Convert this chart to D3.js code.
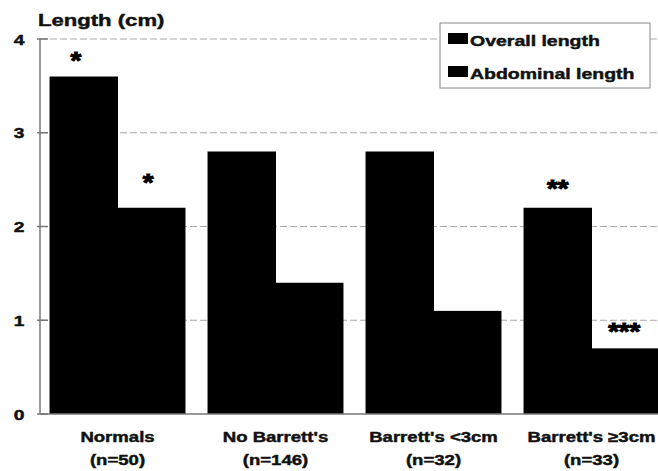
<!DOCTYPE html>
<html>
<head>
<meta charset="utf-8">
<script src="https://cdn.jsdelivr.net/npm/d3@7"></script>
<style>
  html, body { margin: 0; padding: 0; background: #fff; }
  svg { display: block; }
  text { font-family: "Liberation Sans", Arial, sans-serif; font-weight: bold; fill: #111;
         stroke: #111; stroke-width: 0.45px; }
</style>
</head>
<body>
<svg id="chart" width="658" height="471"></svg>
<script>
// Oesophageal sphincter length by patient group
const categories = ["Normals", "No Barrett's", "Barrett's <3cm", "Barrett's \u22653cm"];
const groupSizes = ["(n=50)", "(n=146)", "(n=32)", "(n=33)"];
const seriesNames = ["Overall length", "Abdominal length"];
const overallLength = [3.6, 2.8, 2.8, 2.2];
const abdominalLength = [2.2, 1.4, 1.1, 0.7];
const yTicks = [0, 1, 2, 3, 4];
// significance marks: [category index, series index, label]
const significance = [[0, 0, "*"], [0, 1, "*"], [3, 0, "**"], [3, 1, "***"]];
// placement of each mark: [dx from bar centre, height of mark centre above bar top], px
const markPlace = [[-8, 17.5], [-3, 27], [0, 21], [-1, 18]];

const svg = d3.select("#chart");
const W = 658;
const stretch = 1.28;

const x0 = d3.scaleBand().domain(categories).range([40, 669])
  .paddingInner(0.146).paddingOuter(0.0635);
const x1 = d3.scaleBand().domain(seriesNames).range([0, x0.bandwidth()]);
const y = d3.scaleLinear().domain([0, 4]).range([414, 39]);

const values = [overallLength, abdominalLength];

// dashed gridlines
svg.append("g").selectAll("line").data(yTicks.filter(d => d > 0)).join("line")
  .attr("x1", 40).attr("x2", W)
  .attr("y1", d => y(d)).attr("y2", d => y(d))
  .attr("stroke", "#a8a8a8").attr("stroke-width", 1)
  .attr("stroke-dasharray", "7,3");

// bars
const groups = svg.append("g").selectAll("g").data(categories).join("g")
  .attr("transform", d => `translate(${x0(d)},0)`);
groups.selectAll("rect")
  .data((c, i) => seriesNames.map((s, k) => ({ s, v: values[k][i] })))
  .join("rect")
  .attr("x", d => x1(d.s) - 0.5)
  .attr("width", x1.bandwidth() + 1)
  .attr("y", d => y(d.v))
  .attr("height", d => y(0) - y(d.v))
  .attr("fill", "#000");

// axes
svg.append("line").attr("x1", 40).attr("x2", 40).attr("y1", y(4)).attr("y2", y(0))
  .attr("stroke", "#777").attr("stroke-width", 1.5);
svg.append("line").attr("x1", 40).attr("x2", W).attr("y1", y(0)).attr("y2", y(0))
  .attr("stroke", "#777").attr("stroke-width", 1.5);
svg.append("g").selectAll("line").data(yTicks).join("line")
  .attr("x1", 37).attr("x2", 48)
  .attr("y1", d => y(d)).attr("y2", d => y(d))
  .attr("stroke", "#777").attr("stroke-width", 1.5);

function stretchedText(parent, tx, ty, str, size, anchor, sx) {
  return parent.append("text")
    .attr("transform", `translate(${tx},${ty}) scale(${sx || stretch},1)`)
    .attr("text-anchor", anchor || "start")
    .style("font-size", size + "px")
    .text(str);
}

// y tick labels
const yAxisG = svg.append("g");
yTicks.forEach(t => stretchedText(yAxisG, 19, y(t) + 5.5, d3.format("d")(t), 15, "middle"));

// title
stretchedText(svg, 38, 26, "Length (cm)", 17, "start", 1.3);

// category labels
const xLab = svg.append("g");
categories.forEach((c, i) => {
  const cx = x0(c) + x0.bandwidth() / 2;
  stretchedText(xLab, cx, 442, c, 14.5, "middle");
  stretchedText(xLab, cx, 465, groupSizes[i], 14.5, "middle");
});

// significance marks
const sig = svg.append("g");
const markSize = 24;
significance.forEach(([ci, si, label], j) => {
  const c = categories[ci];
  const cx = x0(c) + x1(seriesNames[si]) + x1.bandwidth() / 2 + markPlace[j][0];
  const top = y(values[si][ci]);
  stretchedText(sig, cx, top - markPlace[j][1] + 0.42 * markSize, label, markSize, "middle", 1.15)
    .style("fill", "#000").style("stroke", "#000").style("stroke-width", "1px");
});

// legend
const lg = svg.append("g").attr("transform", "translate(440,23)");
lg.append("rect").attr("width", 210).attr("height", 65)
  .attr("fill", "#fff").attr("stroke", "#888").attr("stroke-width", 1);
seriesNames.forEach((s, i) => {
  const row = lg.append("g").attr("transform", `translate(8,${10 + i * 33})`);
  row.append("rect").attr("width", 20).attr("height", 11).attr("fill", "#000");
  stretchedText(row, 22, 13, s, 15, "start", 1.3);
});
</script>
</body>
</html>
